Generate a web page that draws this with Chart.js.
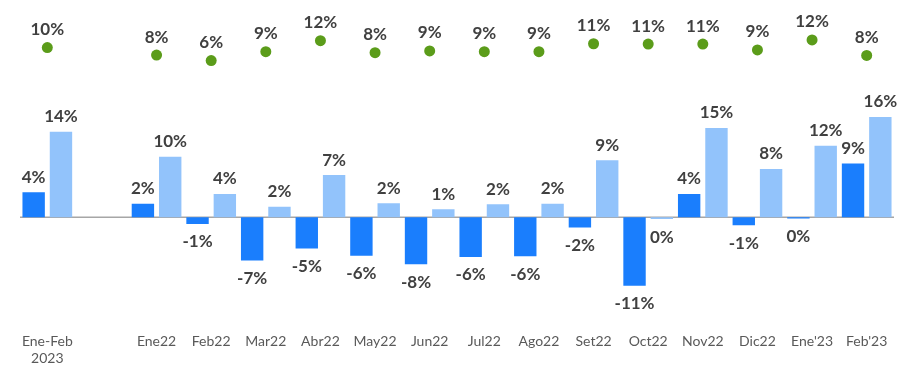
<!DOCTYPE html>
<html>
<head>
<meta charset="utf-8">
<script src="https://cdn.jsdelivr.net/npm/chart.js@4.4.1/dist/chart.umd.min.js"></script>
<style>
	body { margin: 0; background: #fff; }
</style>
</head>
<body>
<canvas id="chart" width="907" height="367"></canvas>
<script>
var labels = [['Ene-Feb', '2023'], '', 'Ene22', 'Feb22', 'Mar22', 'Abr22', 'May22', 'Jun22', 'Jul22', 'Ago22', 'Set22', 'Oct22', 'Nov22', 'Dic22', "Ene'23", "Feb'23"];
var darkValues = [4.1, null, 2.2, -1.1, -7.1, -5.1, -6.3, -7.7, -6.5, -6.4, -1.7, -11.2, 3.8, -1.3, -0.2, 8.8];
var lightValues = [14.0, null, 9.9, 3.8, 1.7, 6.9, 2.3, 1.3, 2.1, 2.2, 9.3, -0.3, 14.6, 7.9, 11.7, 16.4];
var dotValues = [9.8, null, 7.6, 6.0, 8.6, 11.8, 8.3, 8.8, 8.6, 8.6, 10.9, 10.8, 10.8, 9.1, 12.0, 7.5];

var labelFont = 'bold 17px Lato, "Open Sans", sans-serif';

var valueLabels = {
	id: 'valueLabels',
	beforeDatasetsDraw: function(chart) {
		var ctx = chart.ctx;
		var y0 = chart.scales.y.getPixelForValue(0);
		ctx.save();
		ctx.strokeStyle = '#a6a6a6';
		ctx.lineWidth = 1.5;
		ctx.beginPath();
		ctx.moveTo(chart.chartArea.left, y0);
		ctx.lineTo(chart.chartArea.right, y0);
		ctx.stroke();
		ctx.restore();
	},
	afterDatasetsDraw: function(chart) {
		var ctx = chart.ctx;
		ctx.save();
		ctx.font = labelFont;
		ctx.fillStyle = '#404040';
		ctx.textAlign = 'center';
		ctx.textBaseline = 'middle';
		chart.data.datasets.forEach(function(ds, i) {
			var meta = chart.getDatasetMeta(i);
			meta.data.forEach(function(el, j) {
				var v = ds.data[j];
				if (v === null) return;
				var txt = String(Math.round(v)) + '%';
				var y;
				if (ds.type === 'line') y = el.y - 18;
				else if (v >= 0) y = el.y - 15;
				else y = el.y + 18;
				ctx.fillText(txt, el.x, y);
			});
		});
		ctx.restore();
	}
};

new Chart(document.getElementById('chart'), {
	type: 'bar',
	data: {
		labels: labels,
		datasets: [
			{ type: 'line', data: dotValues, yAxisID: 'y2', showLine: false, pointRadius: 5.5, pointHoverRadius: 5.5,
			  pointBackgroundColor: '#5b9c1a', pointBorderColor: '#5b9c1a', borderWidth: 0 },
			{ data: darkValues, backgroundColor: '#1a7efd', yAxisID: 'y' },
			{ data: lightValues, backgroundColor: '#92c3fb', yAxisID: 'y' }
		]
	},
	options: {
		responsive: false,
		animation: false,
		events: [],
		layout: { padding: { left: 20, right: 13, top: 10, bottom: 0 } },
		datasets: { bar: { categoryPercentage: 1.0, barPercentage: 0.82 } },
		plugins: {
			legend: { display: false },
			tooltip: { enabled: false }
		},
		scales: {
			x: {
				grid: { display: false },
				border: { display: false },
				ticks: { color: '#595959', font: { family: 'Lato, "Open Sans", sans-serif', size: 14 }, maxRotation: 0, autoSkip: false, padding: 0 }
			},
			y: { display: false, min: -17.7, max: 33.9 },
			y2: { display: false, min: -70.9, max: 20.7 }
		}
	},
	plugins: [valueLabels]
});
</script>
</body>
</html>
